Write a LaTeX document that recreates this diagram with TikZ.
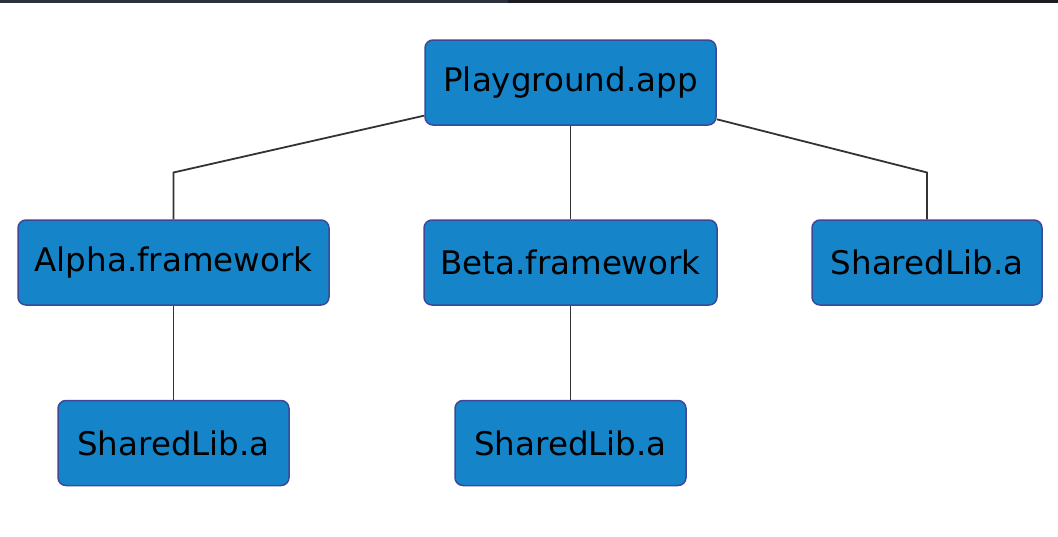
\documentclass[tikz,border=0pt]{standalone}
\usepackage{fontspec}
\setmainfont{DejaVu Sans}
\usetikzlibrary{positioning}

\definecolor{boxfill}{RGB}{21,132,200}
\definecolor{boxline}{RGB}{62,72,150}
\definecolor{wire}{RGB}{51,51,51}
\definecolor{barleft}{RGB}{45,49,60}
\definecolor{barright}{RGB}{28,28,32}

\tikzset{
  target/.style={draw=boxline,fill=boxfill,line width=1.5pt,rounded corners=8pt,
    minimum height=85pt,inner sep=0pt,text=black,
    font=\fontsize{32.5}{39}\selectfont},
  link/.style={draw=wire,line width=1.8pt}
}

\begin{document}
\begin{tikzpicture}[x=1pt,y=-1pt]

\useasboundingbox (0,0) rectangle (1058,536);
\fill[barleft]  (0,0) rectangle (508,3);
\fill[barright] (508,0) rectangle (1058,3);

\node[target,minimum width=291pt] (app)    at (570.5,82.5)  {Playground.app};
\node[target,minimum width=311pt] (alpha)  at (173.5,262.5) {Alpha.framework};
\node[target,minimum width=293pt] (beta)   at (570.5,262.5) {Beta.framework};
\node[target,minimum width=230pt] (libR)   at (927,262.5)   {SharedLib.a};
\node[target,minimum width=231pt] (libA)   at (173.5,443)   {SharedLib.a};
\node[target,minimum width=231pt] (libB)   at (570.5,443)   {SharedLib.a};

% bends of the side links
\coordinate (bendA) at (173.5,172.5);
\coordinate (bendR) at (927,172.5);

\draw[link] (app) -- (bendA) -- (alpha);
\draw[link] (app) -- (beta);
\draw[link] (app) -- (bendR) -- (libR);
\draw[link] (alpha) -- (libA);
\draw[link] (beta) -- (libB);

\end{tikzpicture}
\end{document}
